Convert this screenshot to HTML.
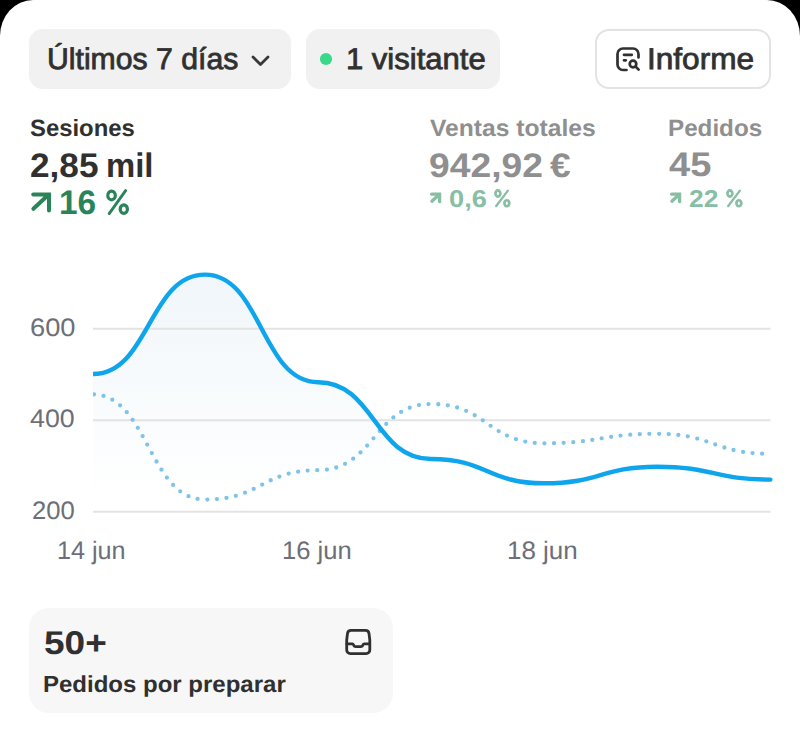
<!DOCTYPE html>
<html><head><meta charset="utf-8">
<style>
*{margin:0;padding:0;box-sizing:border-box}
html,body{width:800px;height:735px;overflow:hidden;background:#000}
body{font-family:"Liberation Sans",sans-serif;color:#303030;position:relative}
#page{position:absolute;left:0;top:0;width:800px;height:735px;background:#fff;border-radius:33px 33px 0 0 / 36px 36px 0 0;overflow:hidden}
.chip{position:absolute;top:29px;height:60px;border-radius:14px;background:#f1f1f1}
.t{position:absolute;white-space:nowrap;line-height:1;transform-origin:0 0;text-rendering:geometricPrecision}
svg{position:absolute;overflow:visible}
</style></head><body>
<div id="page">
<div class="chip" style="left:29px;width:262px"></div>
<div class="chip" style="left:305.7px;width:194.8px"></div>
<div style="position:absolute;left:595px;top:29px;width:176px;height:60px;border-radius:14px;border:2px solid #e3e3e3;background:#fff"></div>
<div style="position:absolute;left:29.3px;top:608px;width:363.5px;height:105.3px;border-radius:20px;background:#f7f7f7"></div>

<svg style="left:0;top:0" width="800" height="735" viewBox="0 0 800 735">
 <defs><linearGradient id="g" x1="0" y1="275" x2="0" y2="495" gradientUnits="userSpaceOnUse"><stop offset="0" stop-color="#f0f6fa"/><stop offset="1" stop-color="#ffffff"/></linearGradient><clipPath id="cc"><rect x="93" y="240" width="700" height="300"/></clipPath></defs>
 <!-- chevron -->
 <path d="M253,57 L260.5,64.5 L268,57" fill="none" stroke="#383838" stroke-width="2.8" stroke-linecap="round" stroke-linejoin="round"/>
 <circle cx="326" cy="59" r="6.1" fill="#38d98b"/>
 <!-- informe icon -->
 <g fill="none" stroke="#303030" stroke-width="2.7" stroke-linecap="round">
  <path d="M626.5,70 H623 A5.5,5.5 0 0 1 617.5,64.5 V54 A5.5,5.5 0 0 1 623,48.5 H633 A5.5,5.5 0 0 1 638.5,54 V57.5"/>
  <path d="M624,54.8 H631.8 M624,60.3 H625.8"/>
  <circle cx="633" cy="64" r="3.3"/>
  <path d="M635.8,66.8 L638.6,69.6"/>
 </g>
 <!-- chart -->
 <path d="M93,374 C149,374 149,274.6 205,274.6 C261.5,274.6 261.5,382.2 318,382.2 C374.5,382.2 374.5,459 431,459 C487.5,459 487.5,483.3 544,483.3 C600.5,483.3 600.5,466.8 657,466.8 C713.7,466.8 713.7,479.6 770.4,479.6 L770,512 L93,512 Z" fill="url(#g)"/>
 <line x1="93" y1="328.7" x2="770.5" y2="328.7" stroke="#e3e3e3" stroke-width="2"/>
 <line x1="93" y1="420.2" x2="770.5" y2="420.2" stroke="#e3e3e3" stroke-width="2"/>
 <line x1="93" y1="511.8" x2="770.5" y2="511.8" stroke="#e3e3e3" stroke-width="2"/>
 <path d="M92,394.3 C148.5,394.3 148.5,499.6 205,499.6 C261.5,499.6 261.5,470.2 318,470.2 C374.5,470.2 374.5,404 431,404 C487.5,404 487.5,443.3 544,443.3 C600.5,443.3 600.5,433.8 657,433.8 C713.5,433.8 713.5,453.8 770,453.8" fill="none" stroke="#7ec4e9" stroke-width="4.3" stroke-linecap="round" stroke-dasharray="0 9.6" stroke-dashoffset="-2" clip-path="url(#cc)"/>
 <path d="M93,374 C149,374 149,274.6 205,274.6 C261.5,274.6 261.5,382.2 318,382.2 C374.5,382.2 374.5,459 431,459 C487.5,459 487.5,483.3 544,483.3 C600.5,483.3 600.5,466.8 657,466.8 C713.7,466.8 713.7,479.6 770.4,479.6" fill="none" stroke="#0fa5ec" stroke-width="4.4" stroke-linecap="round" clip-path="url(#cc)"/>
 <!-- arrows -->
 <g fill="none" stroke="#29845a" stroke-width="4" stroke-linecap="round" stroke-linejoin="miter">
  <path d="M33.4,208.8 L48.2,195 M33.2,194.4 H49 V210.4"/>
 </g>
 <g fill="none" stroke="#88bea4" stroke-width="3.3" stroke-linecap="round" stroke-linejoin="miter">
  <path d="M431.9,201.2 L439,194.6 M431.6,194.2 H439.6 V201.7"/>
  <path d="M671.9,201.2 L679,194.6 M671.6,194.2 H679.6 V201.7"/>
 </g>
 <!-- percent signs -->
 <g fill="none" stroke="#29845a">
  <ellipse cx="111.55" cy="195.45" rx="3.75" ry="4.35" stroke-width="3.2"/>
  <ellipse cx="123.8" cy="209.15" rx="3.6" ry="4.25" stroke-width="3.2"/>
  <path d="M125.6,190.6 L109.2,213.6" stroke-width="2.9" stroke-linecap="round"/>
 </g>
 <g fill="none" stroke="#88bea4">
  <ellipse cx="497.9" cy="193.5" rx="2.45" ry="3.05" stroke-width="2.7"/>
  <ellipse cx="506.85" cy="203.25" rx="2.4" ry="3.0" stroke-width="2.7"/>
  <path d="M507.9,190.6 L496.2,206" stroke-width="2.3" stroke-linecap="round"/>
  <ellipse cx="729.9" cy="193.5" rx="2.45" ry="3.05" stroke-width="2.7"/>
  <ellipse cx="738.85" cy="203.25" rx="2.4" ry="3.0" stroke-width="2.7"/>
  <path d="M739.9,190.6 L728.2,206" stroke-width="2.3" stroke-linecap="round"/>
 </g>
 <!-- inbox icon -->
 <g fill="none" stroke="#303030" stroke-width="2.8" stroke-linecap="round" stroke-linejoin="round">
  <path d="M351,630.4 H365.5 A3.6,3.6 0 0 1 369,633.4 L369.8,640 V650 A3.6,3.6 0 0 1 366.2,653.6 H350.3 A3.6,3.6 0 0 1 346.7,650 V640 L347.5,633.4 A3.6,3.6 0 0 1 351,630.4 Z"/>
  <path d="M347,643.9 H352.3 A1.3,1.3 0 0 1 353.5,644.7 A2.6,2.6 0 0 0 356,646.7 H360.5 A2.6,2.6 0 0 0 363,644.7 A1.3,1.3 0 0 1 364.2,643.9 H369.5"/>
 </g>
</svg>
<div class="t" style="left:47.44px;top:44.61px;font-size:29.90px;font-weight:normal;color:#303030;transform:scaleX(1.0100);-webkit-text-stroke:0.8px #303030;">Últimos 7 días</div>
<div class="t" style="left:345.74px;top:44.61px;font-size:29.90px;font-weight:normal;color:#303030;transform:scaleX(1.0375);-webkit-text-stroke:0.8px #303030;">1 visitante</div>
<div class="t" style="left:646.87px;top:44.61px;font-size:29.90px;font-weight:normal;color:#303030;transform:scaleX(1.0564);-webkit-text-stroke:0.8px #303030;">Informe</div>
<div class="t" style="left:29.53px;top:118.06px;font-size:23.60px;font-weight:bold;color:#303030;transform:scaleX(1.0108);">Sesiones</div>
<div class="t" style="left:30.04px;top:148.50px;font-size:34.00px;font-weight:bold;color:#303030;transform:scaleX(1.0349);">2,85</div>
<div class="t" style="left:106.40px;top:148.50px;font-size:34.00px;font-weight:bold;color:#303030;transform:scaleX(0.9661);">mil</div>
<div class="t" style="left:59.45px;top:185.71px;font-size:34.00px;font-weight:bold;color:#29845a;transform:scaleX(0.9814);">16</div>
<div class="t" style="left:429.75px;top:117.51px;font-size:23.60px;font-weight:bold;color:#8f8f8f;transform:scaleX(1.0444);">Ventas totales</div>
<div class="t" style="left:429.11px;top:148.50px;font-size:34.00px;font-weight:bold;color:#8f8f8f;transform:scaleX(1.0955);">942,92</div>
<div class="t" style="left:550.23px;top:148.50px;font-size:34.00px;font-weight:bold;color:#8f8f8f;transform:scaleX(1.0932);">€</div>
<div class="t" style="left:449.21px;top:187.50px;font-size:24.40px;font-weight:bold;color:#88bea4;transform:scaleX(1.1169);">0,6</div>
<div class="t" style="left:668.41px;top:118.21px;font-size:23.60px;font-weight:bold;color:#8f8f8f;transform:scaleX(1.0257);">Pedidos</div>
<div class="t" style="left:669.49px;top:148.41px;font-size:34.00px;font-weight:bold;color:#8f8f8f;transform:scaleX(1.1196);">45</div>
<div class="t" style="left:689.21px;top:187.50px;font-size:24.40px;font-weight:bold;color:#88bea4;transform:scaleX(1.0837);">22</div>
<div class="t" style="left:29.54px;top:315.81px;font-size:25.30px;font-weight:normal;color:#6d6e78;transform:scaleX(1.0782);">600</div>
<div class="t" style="left:30.36px;top:407.31px;font-size:25.30px;font-weight:normal;color:#6d6e78;transform:scaleX(1.0581);">400</div>
<div class="t" style="left:32.22px;top:499.20px;font-size:25.30px;font-weight:normal;color:#6d6e78;transform:scaleX(1.0132);">200</div>
<div class="t" style="left:56.98px;top:539.10px;font-size:25.30px;font-weight:normal;color:#6d6e78;transform:scaleX(0.9958);">14 jun</div>
<div class="t" style="left:281.95px;top:539.10px;font-size:25.30px;font-weight:normal;color:#6d6e78;transform:scaleX(1.0111);">16 jun</div>
<div class="t" style="left:506.92px;top:539.10px;font-size:25.30px;font-weight:normal;color:#6d6e78;transform:scaleX(1.0264);">18 jun</div>
<div class="t" style="left:44.09px;top:627.31px;font-size:32.80px;font-weight:bold;color:#303030;transform:scaleX(1.1279);">50+</div>
<div class="t" style="left:43.32px;top:672.89px;font-size:23.30px;font-weight:bold;color:#303030;transform:scaleX(1.0302);">Pedidos por preparar</div>
</div>
</body></html>
